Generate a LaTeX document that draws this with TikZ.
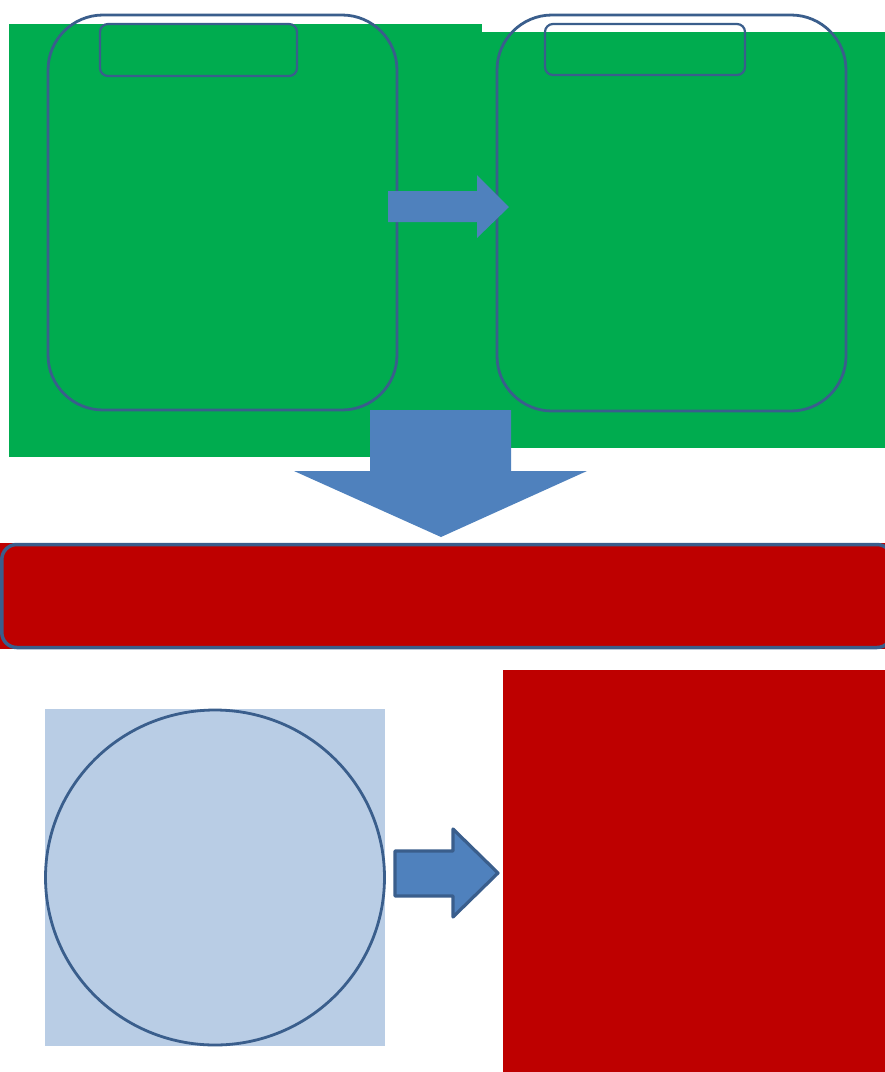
\documentclass[tikz,border=0pt]{standalone}
\begin{document}
\begin{tikzpicture}[x=1pt,y=-1pt,
  outl/.style={draw=strokeblue,line width=2.8pt},
  arrowfill/.style={fill=arrowblue}]
\definecolor{offgreen}{HTML}{00AC4F}
\definecolor{offred}{HTML}{BE0000}
\definecolor{strokeblue}{HTML}{3A5E8C}
\definecolor{arrowblue}{HTML}{4F81BD}
\definecolor{lightblue}{HTML}{B9CDE5}
\useasboundingbox (0,0) rectangle (885,1072);
% green backgrounds
\fill[offgreen] (9,24) rectangle (482,457);
\fill[offgreen] (482,32) rectangle (885,448);
% top left panel
\draw[outl,rounded corners=55pt] (48,15) rectangle (397,410);
\draw[draw=strokeblue,line width=2.2pt,rounded corners=8pt] (100,24) rectangle (297,76);
% top right panel
\draw[outl,rounded corners=55pt] (497,15) rectangle (846,411);
\draw[draw=strokeblue,line width=2.2pt,rounded corners=8pt] (545,24) rectangle (745,75);
% small right arrow
\fill[arrowblue] (388,191) -- (477,191) -- (477,175) -- (509,207) -- (477,238) -- (477,222) -- (388,222) -- cycle;
% big down arrow
\fill[arrowblue] (370,410) -- (511,410) -- (511,471) -- (587,471) -- (441,537) -- (294,471) -- (370,471) -- cycle;
% red bar
\fill[offred] (0,543) rectangle (885,649);
\draw[draw=strokeblue,line width=3.5pt,fill=offred,rounded corners=15pt] (1.8,544.5) rectangle (892,647.5);
% circle on light blue
\fill[lightblue] (45,709) rectangle (385,1046);
\draw[outl] (215,877.5) ellipse [x radius=169.5pt, y radius=167.5pt];
% bottom arrow
\draw[draw=strokeblue,line width=3.2pt,fill=arrowblue,line join=round] (395,851) -- (453,851) -- (453,829) -- (498,873) -- (453,917) -- (453,896) -- (395,896) -- cycle;
% red right block
\fill[offred] (503,670) rectangle (885,1072);
\end{tikzpicture}
\end{document}
